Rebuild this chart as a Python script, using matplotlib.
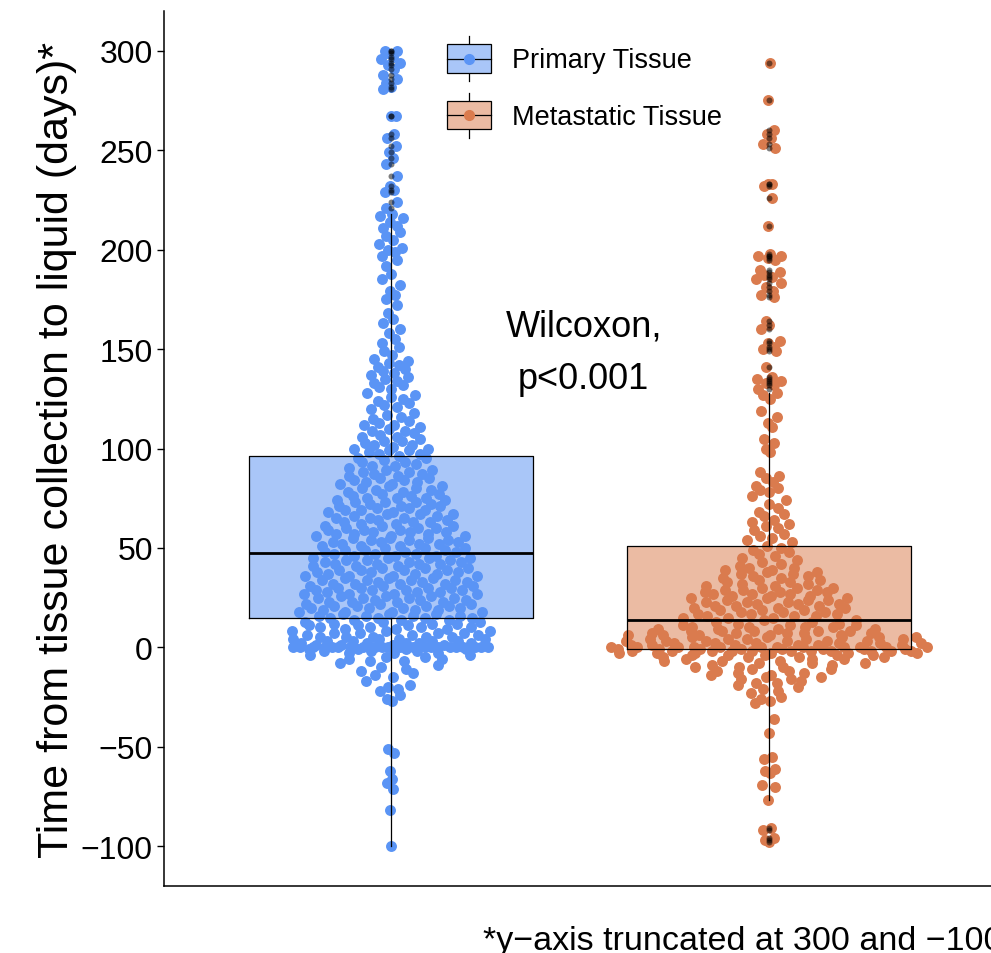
import numpy as np
import matplotlib.pyplot as plt
from matplotlib.legend_handler import HandlerBase
from matplotlib.lines import Line2D
from matplotlib.patches import Rectangle, Patch

plt.rcParams["font.family"] = ["Liberation Sans", "DejaVu Sans"]

groups = ["Primary Tissue", "Metastatic Tissue"]
point_colors = ["#5a94f5", "#da7b4e"]
box_fills = ["#a9c6f8", "#ebbba3"]
spread = [0.28, 0.44]

# days from tissue collection to liquid biopsy (truncated at 300 / -100)
primary_days = [
    -100, -82, -71, -68, -66, -62, -53, -51,
    -27, -26, -24, -22, -21, -20, -19, -17, -15, -14, -13, -12, -11, -10, -9, -8,
    -7, -7, -6, -6, -5, -5, -4, -4, -3, -3, -3, -2, -2, -2, -1, -1, -1, -1,
    0, 0, 0, 0, 0, 0, 0, 0, 0, 0, 0, 0, 0, 0, 0, 0, 0, 0, 0, 0, 0, 0,
    1, 1, 1, 1, 2, 2, 2, 2, 2, 3, 3, 3, 3, 4, 4, 4, 4, 5, 5, 5, 5, 5, 6, 6, 6, 7, 7, 7, 7,
    8, 8, 8, 9, 9, 9, 10, 10, 10, 10, 11, 11, 11, 12, 12, 12, 13, 13, 13, 14, 14, 14,
    15, 15, 15, 15, 16, 16, 16, 16, 17, 17, 17, 18, 18, 18, 18, 19, 19, 19, 20, 20, 20, 20,
    21, 21, 21, 21, 22, 22, 22, 23, 23, 23, 23, 24, 24, 24, 25, 25, 25, 25, 26, 26, 26,
    27, 27, 27, 27, 28, 28, 28, 29, 29, 29, 29, 30, 30, 30, 30, 31, 31, 31, 32, 32, 32, 32,
    33, 33, 33, 34, 34, 34, 34, 35, 35, 35, 36, 36, 36, 36, 37, 37, 37, 38, 38, 38,
    39, 39, 39, 39, 40, 40, 40, 41, 41, 41, 42, 42, 42, 42, 43, 43, 43, 44, 44, 44,
    45, 45, 45, 45, 46, 46, 46, 47, 47, 47,
    48, 48, 48, 49, 49, 49, 50, 50, 50, 51, 51, 51, 52, 52, 52, 53, 53, 53, 54, 54, 54,
    55, 55, 55, 56, 56, 56, 57, 57, 57, 58, 58, 58, 59, 59, 59, 60, 60, 60,
    61, 61, 61, 62, 62, 63, 63, 63, 64, 64, 65, 65, 65, 66, 66, 67, 67, 67, 68, 68,
    69, 69, 69, 70, 70, 71, 71, 71, 72, 72, 73, 73, 73, 74, 74, 75, 75, 75,
    76, 76, 77, 77, 78, 78, 79, 79, 80, 80, 81, 81, 82, 82, 83, 83, 84, 84, 85, 85,
    86, 86, 87, 87, 88, 88, 89, 89, 90, 91, 91, 92, 93, 93, 94, 95, 95, 96,
    97, 97, 98, 99, 99, 100, 100, 101, 102, 102, 103, 104, 104, 105, 106, 106, 107,
    108, 109, 109, 110, 111, 112, 112, 113, 114, 115, 116, 117, 118,
    120, 121, 122, 123, 124, 125, 126, 127, 128, 130, 131, 132, 133, 134, 135, 136,
    137, 138, 139, 140, 141, 142, 143, 144, 145,
    147, 149, 151, 153, 155, 158, 160, 163, 165, 168, 172, 175, 177, 179, 182, 185,
    188, 192, 195, 197, 199, 200,
    201, 203, 205, 207, 209, 211, 212, 214, 216, 217, 218,
    221, 224, 229, 230, 232, 237, 243, 246, 249, 252, 256, 258, 267, 267,
    281, 282, 284, 286, 288, 291, 293, 294, 296, 297, 299, 300, 300,
]

metastatic_days = [
    -98, -97, -96, -92, -91, -77, -70, -69, -63, -62, -61, -56, -55, -43, -36,
    -28, -27, -26, -25, -23, -22, -21,
    -20, -19, -18, -18, -17, -16, -16, -15, -15, -14, -14, -13, -13, -12, -12, -11, -11,
    -10, -10, -10, -9, -9, -8, -8, -8, -7, -7, -7, -6, -6, -6,
    -5, -5, -5, -5, -4, -4, -4, -4, -4, -3, -3, -3, -3, -3, -3,
    -2, -2, -2, -2, -2, -2, -2, -2, -2, -2, -2,
    -1, -1, -1, -1, -1, -1, -1, -1, 0, 0, 0, 0, 0, 0, 0, 0, 0, 0, 0, 0,
    1, 1, 1, 1, 1, 1, 2, 2, 2, 2, 2, 2, 3, 3, 3, 3, 3, 3,
    4, 4, 4, 4, 4, 5, 5, 5, 5, 5, 6, 6, 6, 6, 6, 7, 7, 7, 7, 7, 8, 8, 8, 8, 8,
    9, 9, 9, 9, 10, 10, 10, 10, 11, 11, 11, 12, 12, 13, 13, 14, 14,
    15, 15, 15, 16, 16, 16, 17, 17, 17, 18, 18, 18, 19, 19, 19, 20, 20, 20,
    21, 21, 21, 22, 22, 22, 23, 23, 23, 24, 24, 24, 25, 25, 25, 26, 26, 26,
    27, 27, 27, 28, 28, 28, 29, 29, 29, 30, 30, 30,
    31, 31, 32, 32, 33, 33, 34, 34, 35, 35, 36, 36, 37, 37, 38, 38, 39, 39, 40, 40,
    41, 42, 43, 44, 45, 46, 47, 48, 49, 50, 51,
    53, 54, 55, 56, 57, 59, 60, 61, 62, 63, 64, 66, 67, 68, 70, 72, 74, 76,
    78, 79, 80, 81, 83, 85, 86, 88, 98, 100, 103, 105, 111, 113, 116, 119,
    125, 127, 128, 130,
    132, 133, 134, 135, 136, 141, 149, 150, 151, 153, 154, 160, 162, 164,
    176, 177, 179, 181, 183, 185, 186, 187, 189, 190, 195, 196, 197, 197, 198,
    212, 226, 232, 233, 233, 251, 253, 256, 258, 260, 275, 294,
]

data = [np.array(primary_days, float), np.array(metastatic_days, float)]


def vdc(n, base=2):
    out = []
    for i in range(1, n + 1):
        v, denom, k = 0.0, 1.0, i
        while k:
            k, r = divmod(k, base)
            denom *= base
            v += r / denom
        out.append(v)
    return np.array(out)


def quasirandom(y, width):
    # quasirandom offsets scaled by the density, like ggbeeswarm
    n = len(y)
    q75, q25 = np.percentile(y, [75, 25])
    bw = 0.9 * min(y.std(ddof=1), (q75 - q25) / 1.34) * n ** -0.2 * 0.5
    dens = np.exp(-0.5 * ((y[:, None] - y[None, :]) / bw) ** 2).sum(1)
    dens = dens / dens.max()
    offs = np.empty(n)
    offs[np.argsort(y, kind="stable")] = (vdc(n) - 0.5) * 2
    return offs * dens * width


class BoxKey(HandlerBase):
    def __init__(self, dot):
        super().__init__()
        self.dot = dot

    def create_artists(self, legend, orig_handle, xdescent, ydescent,
                       width, height, fontsize, trans):
        cx = width / 2 - xdescent
        cy = height / 2 - ydescent
        bh = height * 0.63
        whisk = Line2D([cx, cx], [-ydescent, height - ydescent], color="black", lw=0.9, transform=trans)
        box = Rectangle((-xdescent, cy - bh / 2), width, bh, facecolor=orig_handle.get_facecolor(),
                        edgecolor="black", lw=0.9, transform=trans)
        med = Line2D([-xdescent, width - xdescent], [cy, cy], color="black", lw=0.9, transform=trans)
        dot = Line2D([cx], [cy], marker="o", ms=7, color=self.dot, lw=0, transform=trans)
        return [whisk, box, med, dot]


fig = plt.figure(figsize=(9.91, 9.54), dpi=100)
ax = fig.add_axes([164 / 991, 1 - 887 / 954, (996 - 164) / 991, (887 - 12) / 954])

pos = [1, 2]
# box fill under the points
bfill = ax.boxplot(data, positions=pos, widths=0.75, patch_artist=True, showfliers=False,
                   showcaps=False, whis=1.5, zorder=1,
                   boxprops=dict(edgecolor="none"),
                   whiskerprops=dict(visible=False), medianprops=dict(visible=False))
for patch, c in zip(bfill["boxes"], box_fills):
    patch.set_facecolor(c)

for i, y in enumerate(data):
    x = pos[i] + quasirandom(y, spread[i])
    ax.scatter(x, y, s=62, color=point_colors[i], linewidths=0, zorder=2)

# box lines, whiskers and outliers on top
ax.boxplot(data, positions=pos, widths=0.75, showcaps=False, whis=1.5, zorder=3,
           boxprops=dict(color="black", lw=0.9),
           whiskerprops=dict(color="black", lw=0.9),
           medianprops=dict(color="black", lw=2.0),
           flierprops=dict(marker="o", markersize=4.3, markerfacecolor="black",
                           markeredgecolor="none", alpha=0.5))

ax.set_xlim(0.4, 2.6)
ax.set_ylim(-120, 320)
ax.set_xticks([])
ax.set_yticks([-100, -50, 0, 50, 100, 150, 200, 250, 300])
ax.tick_params(axis="y", length=5, width=1, labelsize=23, pad=3, colors="black")
for s in ["top", "right"]:
    ax.spines[s].set_visible(False)
for s in ["left", "bottom"]:
    ax.spines[s].set_linewidth(1.1)
ax.set_ylabel("Time from tissue collection to liquid (days)*", fontsize=31)
ax.yaxis.set_label_coords(-0.104, 0.5)

ax.text(1.51, 156.8, "Wilcoxon,", fontsize=26, ha="center", va="baseline")
ax.text(1.51, 130.2, "p<0.001", fontsize=26, ha="center", va="baseline")

handles = [Patch(facecolor=c) for c in box_fills]
ax.legend(handles, groups, handler_map={h: BoxKey(c) for h, c in zip(handles, point_colors)},
          loc="upper left", bbox_to_anchor=(447 / 991, 1 - 37 / 954), bbox_transform=fig.transFigure,
          frameon=False, fontsize=19.5, borderpad=0, borderaxespad=0,
          handlelength=1.62, handleheight=2.18, labelspacing=0.43, handletextpad=0.77)

fig.text(483 / 991, 1 - 950 / 954, "*y\u2212axis truncated at 300 and \u2212100", fontsize=24.5,
         ha="left", va="baseline")

fig.savefig("out.png", dpi=100)
